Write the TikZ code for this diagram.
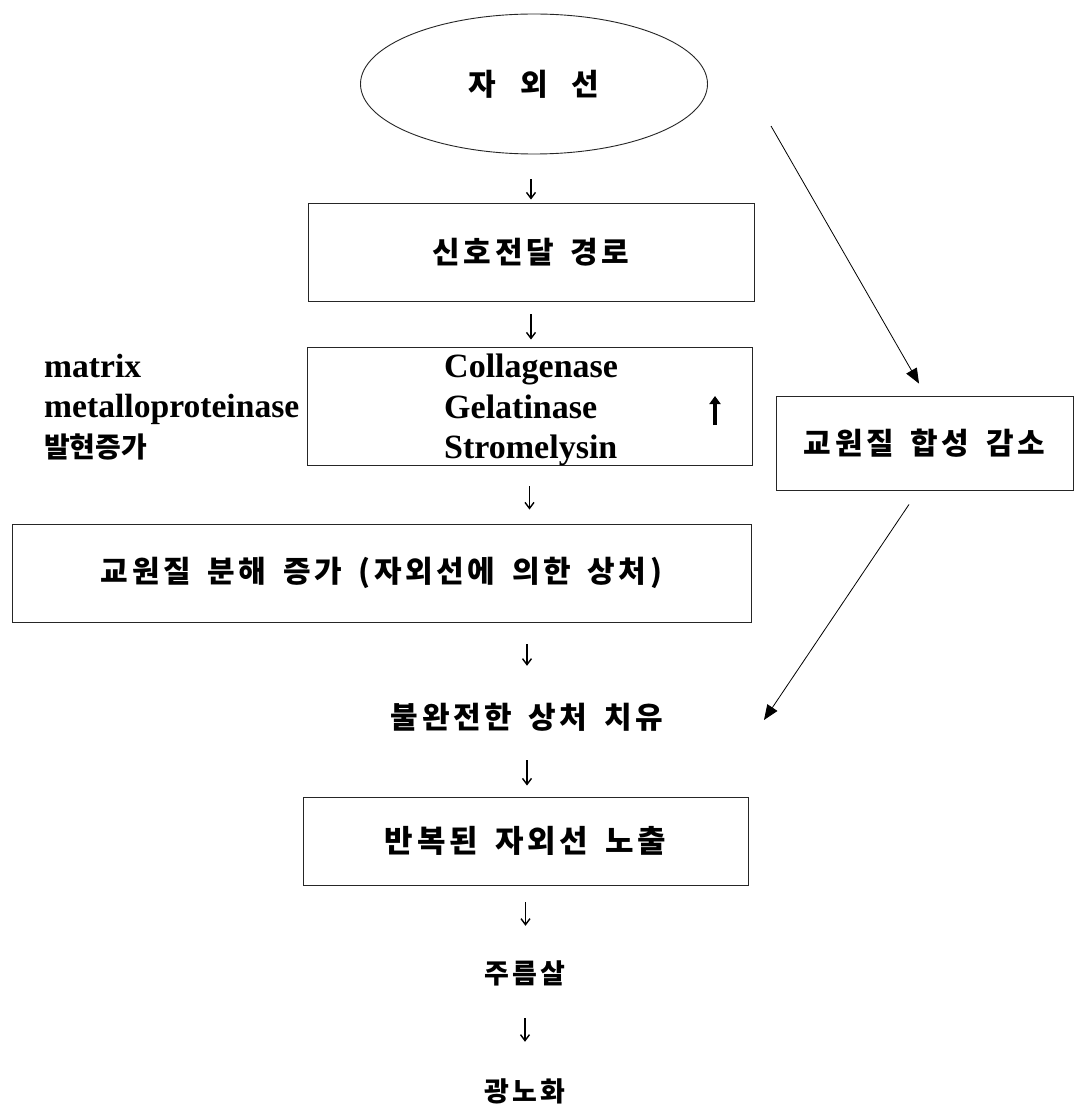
\documentclass[tikz,border=0pt]{standalone}
\usepackage{fontspec}
\setmainfont{Liberation Serif}
\newfontfamily\kor[LetterSpace=12,WordSpace=1.3]{Noto Sans CJK KR}
\newfontfamily\korwide[LetterSpace=12,WordSpace=1.6]{Noto Sans CJK KR}
\newfontfamily\korspread[LetterSpace=8,WordSpace=2.6]{Noto Sans CJK KR}
\newfontfamily\korplain{Noto Sans CJK KR}
\usetikzlibrary{shapes.geometric, arrows.meta, calc}

\begin{document}
\begin{tikzpicture}[x=1pt, y=-1pt,
        box/.style={draw=black!85, line width=0.9pt, rectangle, inner sep=0pt},
        kortext/.style={font=\kor\bfseries\fontsize{30}{34}\selectfont, inner sep=0pt},
        kortext wide/.style={font=\korwide\bfseries\fontsize{31}{34}\selectfont, inner sep=0pt},
        kortext small/.style={font=\kor\bfseries\fontsize{27}{32}\selectfont, inner sep=0pt},
        enz/.style={font=\bfseries\fontsize{34}{40.5}\selectfont, align=left, inner sep=0pt},
        mmptext/.style={font=\bfseries\fontsize{33.6}{40}\selectfont, align=left, inner sep=0pt},
        down/.style={line width=1.4pt, -{Straight Barb[length=6pt, width=9pt]}},
        diag/.style={line width=0.8pt, -{Triangle[length=15pt, width=12pt]}},
        rise/.style={line width=3.2pt, -{Triangle[length=8pt, width=11pt]}}]

    % Page frame, pixel units of the reference (y grows downwards)
    \fill[white] (0,0) rectangle (1074,1107);
    \useasboundingbox (0,0) rectangle (1074,1107);

    % Main column of the flow
    \begin{scope}
        \node[ellipse, draw=black!85, line width=0.9pt, minimum width=347pt,
              minimum height=140pt, inner sep=0pt,
              font=\korspread\bfseries\fontsize{30}{34}\selectfont] (uv) at (534,84) {자 외 선};
        \node[box, kortext, minimum width=446pt, minimum height=98pt] (sig) at (531,252) {신호전달 경로};
        \node[box, minimum width=445pt, minimum height=118pt] (mmp) at (529.5,406) {};
        \node[box, kortext, minimum width=739pt, minimum height=98pt] (deg) at (381.5,573)
            {교원질 분해 증가 (자외선에 의한 상처)};
        \node[kortext, minimum height=30pt] (heal) at (527,717) {불완전한 상처 치유};
        \node[box, kortext wide, minimum width=445pt, minimum height=88pt] (rep) at (525.5,841)
            {반복된 자외선 노출};
        \node[kortext small, minimum height=30pt] (wrinkle) at (525,973) {주름살};
        \node[kortext small, minimum height=30pt] (photo) at (525,1091) {광노화};
    \end{scope}

    % Contents of the enzyme box and the note on its left
    \begin{scope}
        \node[enz, anchor=west] (enzyme) at (444,410) {Collagenase\\Gelatinase\\Stromelysin};
        \node[mmptext, anchor=west] (mmpnote) at (44,407)
            {matrix\\metalloproteinase\\{\korplain\bfseries\fontsize{28}{40}\selectfont 발현증가}};
        \coordinate (upfoot) at (715,425);
        \coordinate (uphead) at (715,396);
        \draw[rise] (upfoot) -- (uphead);
    \end{scope}

    % Side branch
    \node[box, kortext, minimum width=297pt, minimum height=94pt] (dec) at (924.5,443) {교원질 합성 감소};

    % Short down arrows between the steps
    \begin{scope}
        \draw[down, shorten <=25pt, shorten >=3pt] (sig.north |- uv.south) -- (sig.north);
        \draw[down, shorten <=13pt, shorten >=7pt] (sig.south) -- (sig.south |- mmp.north);
        \draw[down, shorten <=21pt, shorten >=14pt] (mmp.south) -- (mmp.south |- deg.north);
        \draw[down, shorten <=22pt, shorten >=36pt] (heal.north |- deg.south) -- (heal.north);
        \draw[down, shorten <=28pt, shorten >=11pt] (heal.south) -- (heal.south |- rep.north);
        \draw[down, shorten <=17pt, shorten >=32pt] (rep.south) -- (rep.south |- wrinkle.north);
        \draw[down, shorten <=30pt, shorten >=34pt] (wrinkle.south) -- (photo.north);
    \end{scope}

    % Long slanted arrows of the side branch
    \begin{scope}
        \coordinate (uvray) at (771,126);
        \coordinate (healtip) at (764,720);
        \draw[diag] (uvray) -- ([shift={(-5.5pt,12pt)}]dec.north);
        \draw[diag] ([shift={(-15.5pt,-14pt)}]dec.south) -- (healtip);
    \end{scope}

\end{tikzpicture}
\end{document}
